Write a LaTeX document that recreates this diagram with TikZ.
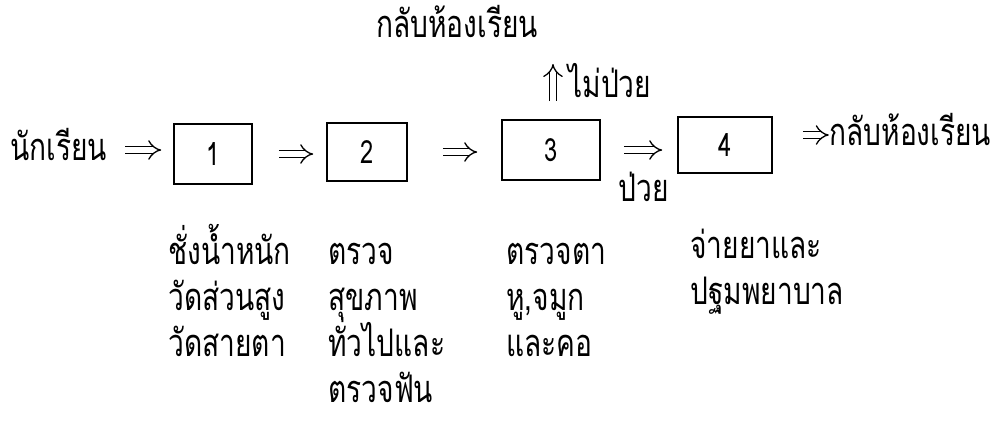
\documentclass[tikz,border=0pt]{standalone}
\usepackage{fontspec}
\setmainfont[Script=Thai, FakeStretch=0.74]{Loma}
\usetikzlibrary{arrows.meta}

\begin{document}
\begin{tikzpicture}[x=0.5pt, y=-0.5pt,
            every node/.style={font=\fontsize{19}{20}\selectfont, inner sep=0pt}, % Thai text
            numbox/.style={draw, line width=0.8pt, font=\fontsize{16}{16}\selectfont,
                minimum width=39pt, minimum height=29pt}, % numbered step
            line/.style={anchor=base west}, % one line of text under a step
            implies/.style={double, double distance=2.8pt, line width=0.65pt, -{Implies[scale=1.2]}} % double arrow
            ]
        \useasboundingbox (0,0) rectangle (1007,420);

            % Main row
            \node[anchor=base west] (student) at (10,160) {นักเรียน};
            \node[numbox, minimum height=30pt] (s1) at (213,154) {1};
            \node[numbox, minimum width=40pt] (s2) at (367,152) {2};
            \node[numbox, minimum width=49pt, minimum height=30pt] (s3) at (551,150) {3};
            \node[numbox, minimum width=47pt, minimum height=28pt] (s4) at (725,145) {4};
            \node[anchor=base west] (backend) at (829,145) {กลับห้องเรียน};

            % Branch above and below step 3
            \node[anchor=base] (backtop) at (457,37) {กลับห้องเรียน};
            \node[anchor=base west] (healthy) at (568,97) {ไม่ป่วย};
            \coordinate (up0) at (553,101);
            \coordinate (up1) at (553,64);
            \node[anchor=base] (sick) at (644,201) {ป่วย};

            % Texts under the steps
            \foreach \txt [count=\i] in {ชั่งน้ำหนัก,วัดส่วนสูง,วัดสายตา}
                \node[line] (w\i) at (168,{218+46*\i}) {\txt};
            \foreach \txt [count=\i] in {ตรวจ,สุขภาพ,ทั่วไปและ,ตรวจฟัน}
                \node[line] (g\i) at (328,{218+46*\i}) {\txt};
            \foreach \txt [count=\i] in {ตรวจตา,{หู,จมูก},และคอ}
                \node[line] (e\i) at (506,{218+46*\i}) {\txt};
            \foreach \txt [count=\i] in {จ่ายยาและ,ปฐมพยาบาล}
                \node[line] (m\i) at (690,{212+46*\i}) {\txt};

            % Arrows
            \draw[implies] ([xshift=-24pt,yshift=2pt]s1.west) -- ([xshift=-6pt,yshift=2pt]s1.west);
            \draw[implies, shorten <=13pt, shorten >=6.5pt] (s1.east) -- (s1.east -| s2.west);
            \draw[implies, shorten <=17.5pt, shorten >=12pt] (s2.east) -- (s2.east -| s3.west);
            \draw[implies, shorten <=11.5pt, shorten >=7.5pt] (s3.east) -- (s3.east -| s4.west);
            \draw[implies] ([xshift=15pt,yshift=5pt]s4.east) -- ([xshift=28pt,yshift=5pt]s4.east);
            \draw[implies] (up0) -- (up1);

        \end{tikzpicture}
\end{document}
